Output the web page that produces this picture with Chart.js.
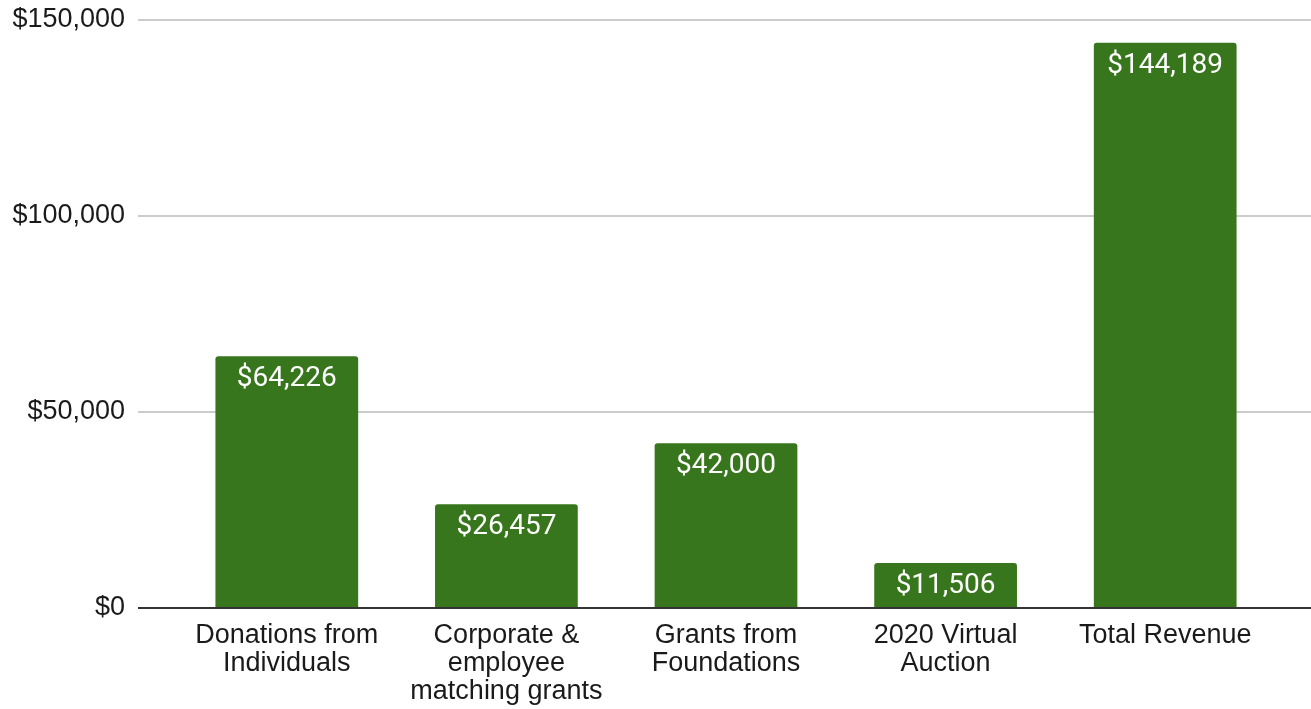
<!DOCTYPE html>
<html>
<head>
<meta charset="utf-8">
<script src="https://cdn.jsdelivr.net/npm/chart.js@4.4.0/dist/chart.umd.min.js"></script>
<style>
  html, body { margin: 0; padding: 0; background: #fff; }
  #wrap { width: 1311px; height: 709px; position: relative; }
</style>
</head>
<body>
<div id="wrap"><canvas id="revenueChart"></canvas></div>
<script>
const categories = [
    ['Donations from', 'Individuals'],
    ['Corporate &', 'employee', 'matching grants'],
    ['Grants from', 'Foundations'],
    ['2020 Virtual', 'Auction'],
    ['Total Revenue']
];
const revenue = [64226, 26457, 42000, 11506, 144189];
const yTicks = [0, 50000, 100000, 150000];

const money = v => '$' + v.toLocaleString('en-US');

// gridlines run wider than the bar area, so draw them ourselves off the y scale
const gridPlugin = {
    id: 'wideGrid',
    beforeDatasetsDraw(chart) {
        const ctx = chart.ctx, y = chart.scales.y;
        ctx.save();
        ctx.strokeStyle = '#cccccc';
        ctx.lineWidth = 2;
        yTicks.forEach(v => {
            if (v === 0) return;
            const py = Math.round(y.getPixelForValue(v));
            ctx.beginPath();
            ctx.moveTo(138, py);
            ctx.lineTo(chart.width, py);
            ctx.stroke();
        });
        ctx.restore();
    },
    afterDatasetsDraw(chart) {
        const ctx = chart.ctx, y = chart.scales.y;
        ctx.save();
        ctx.strokeStyle = '#333333';
        ctx.lineWidth = 2;
        const py = Math.round(y.getPixelForValue(0));
        ctx.beginPath();
        ctx.moveTo(138, py);
        ctx.lineTo(chart.width, py);
        ctx.stroke();

        // value labels inside the top of each bar
        ctx.fillStyle = '#ffffff';
        ctx.font = '28px Roboto';
        ctx.textAlign = 'center';
        ctx.textBaseline = 'middle';
        chart.getDatasetMeta(0).data.forEach((bar, i) => {
            ctx.fillText(money(revenue[i]), bar.x, bar.y + 23);
        });
        ctx.restore();
    }
};

new Chart(document.getElementById('revenueChart'), {
    type: 'bar',
    data: {
        labels: categories,
        datasets: [{
            data: revenue,
            backgroundColor: '#38761d',
            borderRadius: { topLeft: 3, topRight: 3 },
            borderSkipped: 'bottom',
            barPercentage: 0.65,
            categoryPercentage: 1
        }]
    },
    options: {
        responsive: true,
        maintainAspectRatio: false,
        animation: false,
        layout: { padding: { top: 20, right: 36, bottom: 0, left: 0 } },
        plugins: { legend: { display: false }, tooltip: { enabled: false } },
        scales: {
            x: {
                grid: { display: false, drawTicks: false },
                border: { display: false },
                ticks: {
                    color: '#1a1a1a',
                    font: { family: 'Liberation Sans', size: 27, lineHeight: 1.037 },
                    padding: 14,
                    maxRotation: 0,
                    autoSkip: false
                },
                afterFit: s => { s.height = 101; }
            },
            y: {
                min: 0,
                max: 150000,
                // invisible tick marks push the labels left of the bar area
                grid: { display: true, drawOnChartArea: false, drawTicks: true, tickLength: 52, color: 'rgba(0,0,0,0)' },
                border: { display: false },
                afterBuildTicks: s => { s.ticks = yTicks.map(v => ({ value: v })); },
                ticks: {
                    color: '#1a1a1a',
                    font: { family: 'Liberation Sans', size: 27 },
                    padding: 0,
                    callback: v => money(v)
                },
                afterFit: s => { s.width = 177; }
            }
        }
    },
    plugins: [gridPlugin]
});
</script>
</body>
</html>
